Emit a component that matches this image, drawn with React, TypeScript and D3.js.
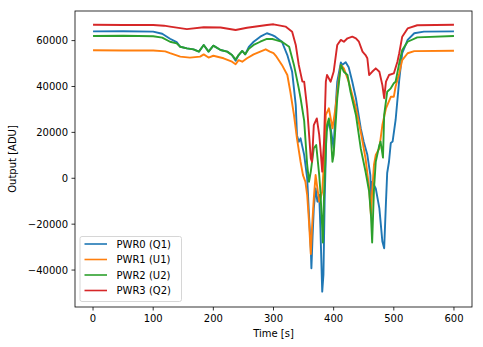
import React from "react";
import * as d3 from "d3";

const seriesNames = ["PWR0 (Q1)", "PWR1 (U1)", "PWR2 (U2)", "PWR3 (Q2)"];
const seriesColors = ["#1f77b4", "#ff7f0e", "#2ca02c", "#d62728"];

const pwr0: [number, number][] = [
  [0, 64000], [50, 64100], [100, 63900], [115, 63000], [128, 60800], [139, 59300], [145, 57300],
  [156, 56600], [167, 56200], [176, 55200], [184, 58100], [192, 55200], [200, 57800], [212, 55900],
  [223, 55200], [231, 53700], [237, 51200], [242, 53700], [248, 55500], [253, 54000], [259, 57300],
  [267, 59500], [278, 61700], [289, 63200], [298, 62400], [303, 61700], [314, 59500], [323, 53700],
  [331, 46400], [337, 31900], [339, 18800], [342, 15900], [345, 17400], [351, 10200], [356, 0],
  [359, -16000], [362, -30500], [363, -39200], [365, -25000], [367, -13100], [370, -4400],
  [373, -10200], [376, -7300], [378, -21800], [381, -49400], [383, -42100], [385, -10200],
  [388, 20300], [392, 24700], [395, 21800], [400, 13100], [403, 30000], [406, 42100], [412, 50500],
  [414, 49400], [420, 50600], [425, 48400], [431, 42100], [437, 34900], [445, 21800], [450, 15900],
  [456, 10200], [461, 1400], [462, -8700], [464, -1500], [470, -4400], [476, -13100], [481, -27600],
  [484, -30500], [487, -10200], [489, 2300], [492, 7200], [495, 15400], [498, 16000], [503, 25400],
  [509, 42800], [514, 54500], [523, 60300], [534, 63200], [550, 63900], [600, 64000],
];

const pwr1: [number, number][] = [
  [0, 55800], [50, 55700], [100, 55700], [120, 55300], [128, 54500], [145, 53000], [161, 52600],
  [178, 53000], [184, 54000], [192, 52600], [200, 53400], [217, 52300], [231, 50800], [237, 49700],
  [242, 51500], [248, 50800], [256, 52300], [267, 54000], [278, 55200], [287, 56200], [294, 55200],
  [300, 54500], [305, 53000], [314, 49400], [323, 45000], [328, 37700], [334, 27600], [339, 17400],
  [345, 7200], [349, 1400], [353, -1500], [356, -7300], [359, -18900], [362, -33000], [364, -21800],
  [367, -8700], [370, 1400], [373, -4400], [376, -10200], [378, -9000], [381, -5800], [384, 7200],
  [387, 27600], [392, 30500], [398, 21800], [403, 30500], [408, 42000], [412, 49400], [417, 47900],
  [425, 42100], [437, 30500], [445, 20300], [453, 8700], [459, -4400], [462, -16000], [464, -6000],
  [467, 5800], [470, 10200], [476, 13100], [481, 23200], [487, 30500], [495, 35500], [500, 35500],
  [503, 40000], [509, 45700], [514, 51500], [523, 54500], [534, 55400], [600, 55600],
];

const pwr2: [number, number][] = [
  [0, 62000], [50, 62100], [100, 61900], [115, 61300], [128, 59500], [139, 58800], [145, 57300],
  [156, 56600], [167, 56200], [176, 55200], [184, 58100], [192, 55200], [200, 57800], [212, 55900],
  [223, 55200], [231, 53700], [237, 51800], [242, 53700], [248, 55500], [253, 54000], [259, 56500],
  [267, 58100], [278, 59500], [289, 60700], [298, 60700], [303, 60300], [314, 59500], [326, 57300],
  [334, 49400], [342, 39200], [345, 34900], [351, 25000], [356, 5800], [359, -1500], [362, 2900],
  [367, 13100], [371, 14500], [376, 1400], [378, -5800], [381, -21800], [382, -28000], [384, -7300],
  [387, 13100], [389, 23200], [392, 26100], [395, 20000], [398, 7200], [400, 10200], [406, 34900],
  [412, 49400], [417, 46400], [423, 45000], [428, 37700], [437, 27600], [445, 13100], [453, 2900],
  [459, -5800], [462, -16000], [464, -28000], [467, -5000], [470, 7200], [476, 14500], [478, 16000],
  [482, 9000], [484, 27600], [489, 37700], [495, 39200], [500, 41400], [503, 42100], [509, 50100],
  [514, 55900], [523, 59500], [539, 61400], [600, 62000],
];

const pwr3: [number, number][] = [
  [0, 66900], [50, 66800], [100, 66800], [118, 66500], [128, 66100], [156, 65000], [184, 65800],
  [212, 65700], [237, 64600], [256, 65600], [289, 66800], [300, 67100], [320, 66100], [331, 63900],
  [337, 58100], [342, 49400], [348, 42100], [351, 42100], [356, 30500], [362, 8700], [364, 7200],
  [367, 23200], [372, 26100], [376, 18900], [378, 13100], [381, 2900], [384, 15900], [387, 42100],
  [389, 45000], [395, 42100], [400, 46400], [406, 58100], [412, 60300], [417, 59500], [423, 61000],
  [431, 61700], [437, 61000], [442, 59500], [448, 55200], [453, 53700], [456, 52300], [459, 45000],
  [464, 46400], [470, 47900], [476, 46400], [481, 40600], [484, 34900], [487, 42100], [492, 45000],
  [500, 45700], [506, 50800], [509, 54500], [514, 61700], [523, 65300], [539, 66700], [600, 66900],
];

const allSeries = [pwr0, pwr1, pwr2, pwr3];
const xTicks = [0, 100, 200, 300, 400, 500, 600];
const yTicks = [-40000, -20000, 0, 20000, 40000, 60000];

const W = 483;
const H = 347;
const L = 75, R = 472, T = 11, B = 307;
const FONT = "DejaVu Sans, sans-serif";

export default function App() {
  const x = d3.scaleLinear().domain([-30, 630]).range([L, R]);
  const y = d3.scaleLinear().domain([-56100, 72900]).range([B, T]);
  const line = d3
    .line<[number, number]>()
    .x((d) => x(d[0]))
    .y((d) => y(d[1]));

  const legX = 80, legY = 236.5, legW = 101.5, legH = 65;
  const rowY = [244, 259.5, 275, 290.5];

  return (
    <div style={{ position: "absolute", left: 0, top: 0 }}>
      <svg width={W} height={H} style={{ display: "block", background: "#fff" }}>
        <defs>
          <clipPath id="plotclip">
            <rect x={L} y={T} width={R - L} height={B - T} />
          </clipPath>
        </defs>
        <g clipPath="url(#plotclip)">
          {allSeries.map((s, i) => (
            <path
              key={i}
              d={line(s) || ""}
              fill="none"
              stroke={seriesColors[i]}
              strokeWidth={1.9}
              strokeLinejoin="round"
            />
          ))}
        </g>
        <rect x={L} y={T} width={R - L} height={B - T} fill="none" stroke="#000" strokeWidth={0.8} />
        {xTicks.map((t) => (
          <g key={"x" + t}>
            <line x1={x(t)} x2={x(t)} y1={B} y2={B + 3.5} stroke="#000" strokeWidth={0.8} />
            <text x={x(t)} y={B + 15} textAnchor="middle" fontFamily={FONT} fontSize={10} fill="#000">
              {t}
            </text>
          </g>
        ))}
        {yTicks.map((t) => (
          <g key={"y" + t}>
            <line x1={L - 3.5} x2={L} y1={y(t)} y2={y(t)} stroke="#000" strokeWidth={0.8} />
            <text x={L - 7} y={y(t) + 3.6} textAnchor="end" fontFamily={FONT} fontSize={10} fill="#000">
              {t < 0 ? "\u2212" + Math.abs(t) : t}
            </text>
          </g>
        ))}
        <text x={(L + R) / 2} y={337} textAnchor="middle" fontFamily={FONT} fontSize={10} fill="#000">
          Time [s]
        </text>
        <text
          transform={`translate(15.5, ${(T + B) / 2}) rotate(-90)`}
          textAnchor="middle"
          fontFamily={FONT}
          fontSize={10}
          fill="#000"
        >
          Output [ADU]
        </text>
        <rect
          x={legX}
          y={legY}
          width={legW}
          height={legH}
          rx={2}
          fill="#fff"
          fillOpacity={0.8}
          stroke="#cccccc"
          strokeWidth={0.8}
        />
        {seriesNames.map((n, i) => (
          <g key={n}>
            <line x1={84.5} x2={107} y1={rowY[i]} y2={rowY[i]} stroke={seriesColors[i]} strokeWidth={1.6} />
            <text x={116.5} y={rowY[i] + 3.6} fontFamily={FONT} fontSize={10} fill="#000">
              {n}
            </text>
          </g>
        ))}
      </svg>
    </div>
  );
}
